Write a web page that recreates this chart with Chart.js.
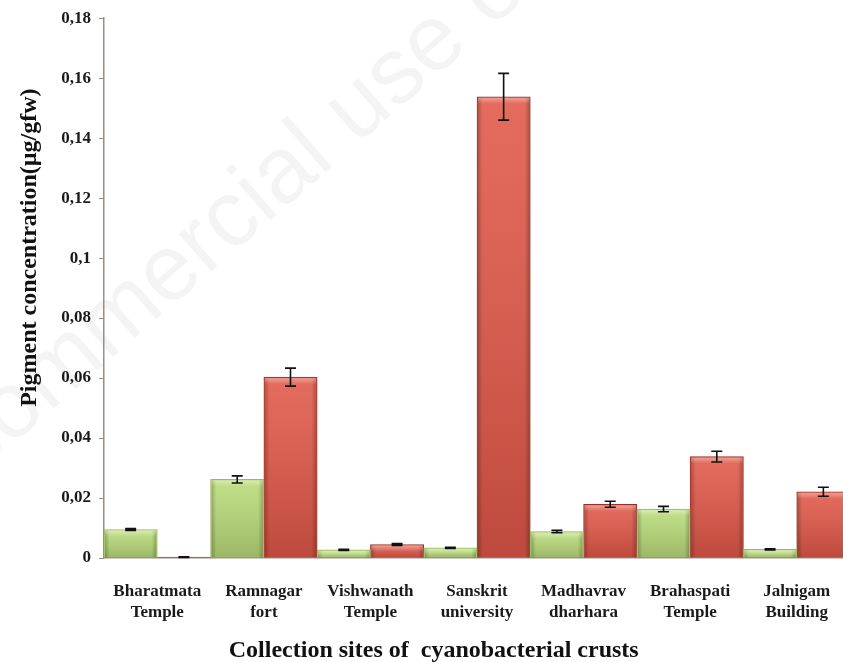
<!DOCTYPE html>
<html>
<head>
<meta charset="utf-8">
<script src="https://cdn.jsdelivr.net/npm/chart.js@4.4.1/dist/chart.umd.min.js"></script>
<style>
  html, body { margin: 0; padding: 0; background: #ffffff; overflow: hidden; }
  #wrap { width: 851px; height: 662px; position: relative; }
</style>
</head>
<body>
<div id="wrap"><canvas id="c" width="851" height="662"></canvas></div>
<script>
// Collection sites (two-line labels)
const sites = [
  ['Bharatmata', 'Temple'],
  ['Ramnagar', 'fort'],
  ['Vishwanath', 'Temple'],
  ['Sanskrit', 'university'],
  ['Madhavrav', 'dharhara'],
  ['Brahaspati', 'Temple'],
  ['Jalnigam', 'Building']
];

// Pigment concentrations (µg/gfw)
const greenValues = [0.0095, 0.0262, 0.0027, 0.0034, 0.0088, 0.0163, 0.0029];
const greenErrors = [0.0003, 0.0012, 0.0002, 0.0002, 0.0004, 0.0009, 0.0002];
const redValues   = [0.0003, 0.0603, 0.0045, 0.1538, 0.0179, 0.0338, 0.0221];
const redErrors   = [0.0001, 0.0030, 0.0003, 0.0078, 0.0010, 0.0018, 0.0015];

// Y axis ticks
const yTicks = [0, 0.02, 0.04, 0.06, 0.08, 0.1, 0.12, 0.14, 0.16, 0.18];

const yTitle = 'Pigment concentration(µg/gfw)';
const xTitle = 'Collection sites of  cyanobacterial crusts';
const watermark = 'Non-commercial use only';

const serif = '"Liberation Serif", "Times New Roman", serif';

function fmtTick(v) {
  return String(Number(v.toFixed(2))).replace('.', ',');
}

// faint diagonal watermark behind the plot
const watermarkPlugin = {
  id: 'watermark',
  beforeDraw(chart) {
    const ctx = chart.ctx;
    ctx.save();
    ctx.font = '94px "Liberation Sans", Arial, sans-serif';
    ctx.fillStyle = 'rgba(0,0,0,0.045)';
    ctx.textBaseline = 'alphabetic';
    ctx.textAlign = 'left';
    const lead = ctx.measureText('Non-').width;
    const ang = -41 * Math.PI / 180;
    const sx = -26, sy = 478;
    ctx.translate(sx - lead * Math.cos(ang), sy - lead * Math.sin(ang));
    ctx.rotate(ang);
    ctx.fillText(watermark, 0, 0);
    ctx.restore();
  }
};

// glossy shading on each bar plus error bars
const barDecor = {
  id: 'barDecor',
  afterDatasetsDraw(chart) {
    const ctx = chart.ctx;
    const yScale = chart.scales.y;
    chart.data.datasets.forEach((ds, di) => {
      const meta = chart.getDatasetMeta(di);
      meta.data.forEach((bar, i) => {
        const p = bar.getProps(['x', 'y', 'base', 'width'], true);
        const l = p.x - p.width / 2 + 1, r = p.x + p.width / 2 - 1;
        const t = p.y + 1, b = p.base;
        const h = b - t;
        if (h > 0.5) {
          ctx.save();
          // vertical light-to-dark
          let g = ctx.createLinearGradient(0, t, 0, b);
          g.addColorStop(0, 'rgba(255,255,255,0.12)');
          g.addColorStop(1, 'rgba(0,0,0,0.16)');
          ctx.fillStyle = g;
          ctx.fillRect(l, t, r - l, h);
          // darker side edges
          g = ctx.createLinearGradient(l, 0, r, 0);
          g.addColorStop(0, 'rgba(0,0,0,0.22)');
          g.addColorStop(0.09, 'rgba(0,0,0,0.0)');
          g.addColorStop(0.91, 'rgba(0,0,0,0.0)');
          g.addColorStop(1, 'rgba(0,0,0,0.22)');
          ctx.fillStyle = g;
          ctx.fillRect(l, t, r - l, h);
          // bevel on the top edge
          const bh = Math.min(6, h);
          g = ctx.createLinearGradient(0, t, 0, t + bh);
          g.addColorStop(0, 'rgba(255,255,255,0.35)');
          g.addColorStop(1, 'rgba(255,255,255,0)');
          ctx.fillStyle = g;
          ctx.fillRect(l, t, r - l, bh);
          ctx.restore();
        }
        // error bar
        const errs = ds.errors;
        const v = ds.data[i];
        const yHi = yScale.getPixelForValue(v + errs[i]);
        const yLo = yScale.getPixelForValue(v - errs[i]);
        ctx.save();
        ctx.strokeStyle = '#111111';
        ctx.lineWidth = 1.6;
        ctx.beginPath();
        ctx.moveTo(p.x, yHi); ctx.lineTo(p.x, yLo);
        ctx.moveTo(p.x - 5.5, yHi); ctx.lineTo(p.x + 5.5, yHi);
        ctx.moveTo(p.x - 5.5, yLo); ctx.lineTo(p.x + 5.5, yLo);
        ctx.stroke();
        ctx.restore();
      });
    });
  },
  afterDraw(chart) {
    const ctx = chart.ctx;
    const area = chart.chartArea;
    ctx.save();
    ctx.fillStyle = '#111111';
    ctx.font = 'bold 24px ' + serif;
    // y axis title
    ctx.save();
    ctx.translate(36, area.top + (area.bottom - area.top) * 0.425);
    ctx.rotate(-Math.PI / 2);
    ctx.textAlign = 'center';
    ctx.textBaseline = 'alphabetic';
    ctx.fillText(yTitle, 0, 0);
    ctx.restore();
    // x axis title
    ctx.textAlign = 'center';
    ctx.textBaseline = 'alphabetic';
    ctx.fillText(xTitle, area.left + (area.right - area.left) * 0.442, 657);
    ctx.restore();
  }
};

new Chart(document.getElementById('c'), {
  type: 'bar',
  data: {
    labels: sites,
    datasets: [
      {
        label: 'green',
        data: greenValues,
        errors: greenErrors,
        backgroundColor: '#b9db79',
        borderColor: '#9ab95e',
        borderWidth: 1
      },
      {
        label: 'red',
        data: redValues,
        errors: redErrors,
        backgroundColor: '#e15848',
        borderColor: '#9a2e24',
        borderWidth: 1
      }
    ]
  },
  options: {
    responsive: false,
    animation: false,
    events: [],
    layout: { padding: { top: 18, right: 1, left: 0, bottom: 0 } },
    datasets: { bar: { categoryPercentage: 1.0, barPercentage: 1.0 } },
    plugins: {
      legend: { display: false },
      tooltip: { enabled: false },
      title: { display: false }
    },
    scales: {
      x: {
        grid: { display: false },
        border: { display: true, color: '#9a8f88', width: 1.5 },
        ticks: {
          color: '#1a1a1a',
          font: { family: serif, size: 17, weight: 'bold', lineHeight: 1.25 },
          padding: 15,
          maxRotation: 0,
          autoSkip: false
        },
        afterFit(scale) { scale.height = 104; }
      },
      y: {
        min: 0,
        max: 0.18,
        afterBuildTicks(scale) { scale.ticks = yTicks.map(v => ({ value: v })); },
        grid: { display: true, drawOnChartArea: false, drawTicks: true, tickLength: 5, color: '#9a8f88', lineWidth: 1 },
        border: { display: true, color: '#9a8f88', width: 1.5 },
        ticks: {
          color: '#1a1a1a',
          font: { family: serif, size: 17, weight: 'bold' },
          padding: 8,
          callback: (v) => fmtTick(v)
        },
        afterFit(scale) { scale.width = 104; }
      }
    }
  },
  plugins: [watermarkPlugin, barDecor]
});
</script>
</body>
</html>
